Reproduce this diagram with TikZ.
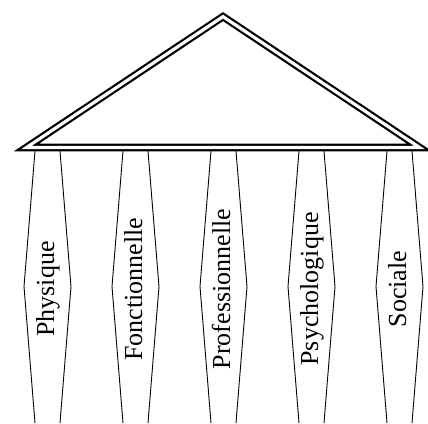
\documentclass[tikz,border=0pt]{standalone}
\usepackage{fontspec}
\setmainfont{Liberation Serif}
\begin{document}
\begin{tikzpicture}[x=1pt,y=-1pt,
  pillar/.style={draw=black, line width=0.9pt, line join=miter},
  label/.style={rotate=90, anchor=base, inner sep=0pt, font=\fontsize{26}{30}\selectfont},
  roof/.style={draw=black, double=white, line width=2.2pt, double distance=3.2pt, line join=miter, miter limit=20}]
\useasboundingbox (0,0) rectangle (428,423);
\clip (0,0) rectangle (428,423);
\foreach \cx/\t/\nm in {47.5/Physique/phys,135.5/Fonctionnelle/fonc,223.5/Professionnelle/prof,311.5/Psychologique/psy,399.5/Sociale/soc} {
  \draw[pillar] (\cx-12.5,151) -- (\cx-23.5,286.5) -- (\cx-12.5,423);
  \draw[pillar] (\cx+12.5,151) -- (\cx+23.5,286.5) -- (\cx+12.5,423);
  \node[label] (\nm) at (\cx+6.5,289) {\t};
}
\coordinate (apex) at (223,16.6);
\coordinate (bl) at (26.4,147.5);
\coordinate (br) at (419.6,147.5);
\draw[roof] (bl) -- (apex) -- (br) -- cycle;
\end{tikzpicture}
\end{document}
